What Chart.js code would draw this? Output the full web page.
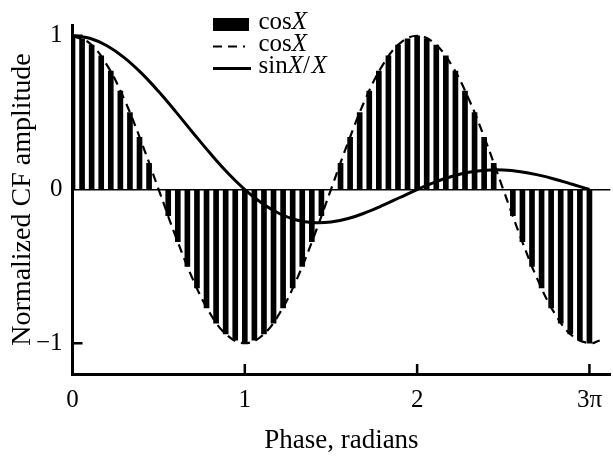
<!DOCTYPE html>
<html>
<head>
<meta charset="utf-8">
<script src="https://cdn.jsdelivr.net/npm/chart.js@4.4.1/dist/chart.umd.min.js"></script>
<style>
    body { margin: 0; background: #fff; }
    #wrap { width: 613px; height: 462px; }
</style>
</head>
<body>
<div id="wrap"><canvas id="cfChart" width="613" height="462"></canvas></div>
<script>
// phase of the sampled bars, degrees (10 deg step), and their amplitude
const phaseDeg = [
    0, 10, 20, 30, 40, 50, 60, 70, 80, 90,
    100, 110, 120, 130, 140, 150, 160, 170, 180,
    190, 200, 210, 220, 230, 240, 250, 260, 270,
    280, 290, 300, 310, 320, 330, 340, 350, 360,
    370, 380, 390, 400, 410, 420, 430, 440, 450,
    460, 470, 480, 490, 500, 510, 520, 530, 540,
];
const cfBars = [
    1.00, 0.98, 0.94, 0.87, 0.77, 0.64, 0.50, 0.34, 0.17, 0.00,
    -0.17, -0.34, -0.50, -0.64, -0.77, -0.87, -0.94, -0.98, -1.00,
    -0.98, -0.94, -0.87, -0.77, -0.64, -0.50, -0.34, -0.17, 0.00,
    0.17, 0.34, 0.50, 0.64, 0.77, 0.87, 0.94, 0.98, 1.00,
    0.98, 0.94, 0.87, 0.77, 0.64, 0.50, 0.34, 0.17, 0.00,
    -0.17, -0.34, -0.50, -0.64, -0.77, -0.87, -0.94, -0.98, -1.00,
];

// dashed cos curve (x in units of pi)
const cosX = [0, 0.1, 0.2, 0.3, 0.4, 0.5, 0.6, 0.7, 0.8, 0.9, 1.0, 1.1, 1.2, 1.3, 1.4, 1.5,
    1.6, 1.7, 1.8, 1.9, 2.0, 2.1, 2.2, 2.3, 2.4, 2.5, 2.6, 2.7, 2.8, 2.9, 3.0, 3.06];
const cosCurve = [1.000, 0.951, 0.809, 0.588, 0.309, 0.000, -0.309, -0.588, -0.809, -0.951, -1.000,
    -0.951, -0.809, -0.588, -0.309, 0.000, 0.309, 0.588, 0.809, 0.951, 1.000,
    0.951, 0.809, 0.588, 0.309, 0.000, -0.309, -0.588, -0.809, -0.951, -1.000, -0.982];

// solid sinX/X curve
const sincX = [0, 0.1, 0.2, 0.3, 0.4, 0.5, 0.6, 0.7, 0.8, 0.9, 1.0, 1.1, 1.2, 1.3, 1.4, 1.5,
    1.6, 1.7, 1.8, 1.9, 2.0, 2.1, 2.2, 2.3, 2.4, 2.5, 2.6, 2.7, 2.8, 2.9, 3.0];
const sincCurve = [1.000, 0.984, 0.935, 0.858, 0.757, 0.637, 0.505, 0.368, 0.234, 0.109, 0.000,
    -0.089, -0.156, -0.198, -0.216, -0.212, -0.189, -0.151, -0.104, -0.052, 0.000,
    0.047, 0.085, 0.112, 0.126, 0.127, 0.116, 0.095, 0.067, 0.034, 0.000];

const seriesNames = ['cosX', 'cosX', 'sinX/X'];
const xTickValues = [0, 1, 2, 3];
const xTickLabels = ['0', '1', '2', '3π'];
const yTickValues = [-1, 0, 1];
const yTickLabels = ['−1', '0', '1'];

Chart.defaults.font.family = '"Liberation Serif", "Times New Roman", serif';
Chart.defaults.color = '#000';

// legend: one row per dataset, the X drawn in italics
const serifLegend = {
    id: 'serifLegend',
    afterDraw(chart) {
        const ctx = chart.ctx;
        const x0 = 213;
        const textX = 258.5;
        const baselines = [28.5, 50.5, 72.5];
        ctx.save();
        chart.data.datasets.forEach((ds, i) => {
            const base = baselines[i];
            const mid = base - 4;
            if (ds.type === 'bar') {
                ctx.fillStyle = ds.backgroundColor;
                ctx.fillRect(x0, mid - 6.5, 36, 13);
            } else {
                ctx.strokeStyle = ds.borderColor;
                ctx.lineWidth = i === 2 ? 3 : 2.2;
                ctx.setLineDash(ds.borderDash || []);
                ctx.beginPath();
                ctx.moveTo(x0, mid);
                ctx.lineTo(x0 + (i === 2 ? 38 : 32), mid);
                ctx.stroke();
                ctx.setLineDash([]);
            }
            ctx.fillStyle = '#000';
            ctx.textBaseline = 'alphabetic';
            let x = textX;
            ds.label.split(/(X)/).forEach((part) => {
                if (!part) return;
                ctx.font = (part === 'X' ? 'italic ' : '') + '25px "Liberation Serif"';
                ctx.fillText(part, x, base);
                x += ctx.measureText(part).width + (part === '/' ? 1.5 : 0);
            });
        });
        ctx.restore();
    },
};

// short tick marks pointing into the plot
const innerTicks = {
    id: 'innerTicks',
    afterDraw(chart) {
        const ctx = chart.ctx;
        const xs = chart.scales.x;
        const ys = chart.scales.y;
        const area = chart.chartArea;
        ctx.save();
        ctx.strokeStyle = '#000';
        ctx.lineWidth = 2.5;
        ctx.beginPath();
        xTickValues.forEach((v) => {
            if (v === 0) return;
            const px = xs.getPixelForValue(v);
            ctx.moveTo(px, area.bottom);
            ctx.lineTo(px, area.bottom - 10);
        });
        yTickValues.forEach((v) => {
            if (v === 0) return;
            const py = ys.getPixelForValue(v);
            ctx.moveTo(area.left, py);
            ctx.lineTo(area.left + 10, py);
        });
        ctx.stroke();
        ctx.restore();
    },
};

const ctx_cf = document.getElementById('cfChart').getContext('2d');
const cfChart = new Chart(ctx_cf, {
    type: 'bar',
    data: {
        datasets: [
            {
                type: 'bar',
                label: seriesNames[0],
                data: phaseDeg.map((d, i) => ({ x: d / 180, y: cfBars[i] })),
                backgroundColor: '#000',
                barThickness: 5,
                order: 3,
            },
            {
                type: 'line',
                label: seriesNames[1],
                data: cosX.map((x, i) => ({ x: x, y: cosCurve[i] })),
                borderColor: '#000',
                borderWidth: 2.2,
                borderDash: [9, 6],
                pointRadius: 0,
                tension: 0.4,
                order: 2,
            },
            {
                type: 'line',
                label: seriesNames[2],
                data: sincX.map((x, i) => ({ x: x, y: sincCurve[i] })),
                borderColor: '#000',
                borderWidth: 3,
                pointRadius: 0,
                tension: 0.4,
                order: 1,
            },
        ],
    },
    options: {
        responsive: false,
        animation: false,
        layout: { padding: { top: 12, right: 0, bottom: 0, left: 0 } },
        plugins: {
            legend: { display: false },
            tooltip: { enabled: false },
        },
        scales: {
            x: {
                type: 'linear',
                min: 0,
                max: 3.121,
                offset: false,
                afterBuildTicks: (scale) => {
                    scale.ticks = xTickValues.map((v) => ({ value: v }));
                },
                afterFit: (scale) => {
                    scale.height = 88;
                },
                ticks: {
                    font: { size: 25 },
                    padding: 11,
                    maxRotation: 0,
                    autoSkip: false,
                    callback: (v) => xTickLabels[xTickValues.indexOf(v)],
                },
                grid: { display: false, drawTicks: false },
                border: { display: true, color: '#000', width: 3 },
                title: {
                    display: true,
                    text: 'Phase, radians',
                    font: { size: 27 },
                    padding: { top: 0, bottom: 5 },
                },
            },
            y: {
                min: -1.2,
                max: 1.07,
                afterBuildTicks: (scale) => {
                    scale.ticks = yTickValues.map((v) => ({ value: v }));
                },
                afterFit: (scale) => {
                    scale.width = 72.5;
                },
                ticks: {
                    font: { size: 25 },
                    padding: 10,
                    autoSkip: false,
                    callback: (v) => yTickLabels[yTickValues.indexOf(v)],
                },
                grid: {
                    drawTicks: false,
                    lineWidth: 1.5,
                    color: (c) => (c.tick && c.tick.value === 0 ? '#000' : 'rgba(0,0,0,0)'),
                },
                border: { display: true, color: '#000', width: 3 },
                title: {
                    display: true,
                    text: 'Normalized CF amplitude',
                    font: { size: 28 },
                    padding: { top: 6, bottom: 0 },
                },
            },
        },
    },
    plugins: [serifLegend, innerTicks],
});
</script>
</body>
</html>
